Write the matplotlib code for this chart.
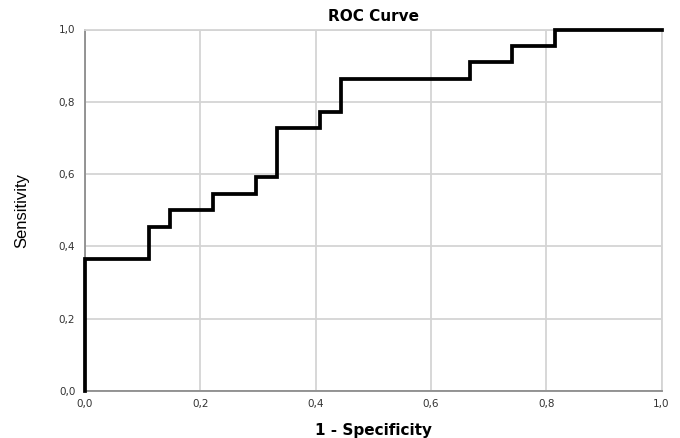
import matplotlib
matplotlib.use("Agg")
import matplotlib.pyplot as plt
from matplotlib.ticker import FuncFormatter

# ROC step points (1 - specificity, sensitivity)
fpr = [0.0, 0.0, 0.111, 0.148, 0.222, 0.296, 0.333, 0.407, 0.444, 0.667, 0.741, 0.815, 1.0]
tpr = [0.0, 0.364, 0.455, 0.500, 0.545, 0.591, 0.727, 0.773, 0.864, 0.909, 0.955, 1.0, 1.0]
ticks = [0.0, 0.2, 0.4, 0.6, 0.8, 1.0]
title = "ROC Curve"
xlabel = "1 - Specificity"
ylabel = "Sensitivity"

fig = plt.figure(figsize=(6.8, 4.38), dpi=100)
ax = fig.add_axes([85/680, 1 - 391/438, (661.5-85)/680, (391-29.5)/438])

ax.plot(fpr, tpr, drawstyle="steps-post", color="black", lw=2.7,
        solid_joinstyle="miter", zorder=3, clip_on=False)

ax.set_xlim(0, 1)
ax.set_ylim(0, 1)
ax.set_xticks(ticks)
ax.set_yticks(ticks)
fmt = FuncFormatter(lambda v, p: f"{v:.1f}".replace(".", ","))
ax.xaxis.set_major_formatter(fmt)
ax.yaxis.set_major_formatter(fmt)
ax.grid(True, color="#d4d4d4", lw=1.3, zorder=0)
ax.set_axisbelow(True)
ax.tick_params(length=0, labelsize=7.5, labelcolor="#333333", pad=6)
ax.tick_params(axis="y", pad=7)

for s in ["top", "right"]:
    ax.spines[s].set_color("#d4d4d4")
    ax.spines[s].set_linewidth(1.3)
for s in ["left", "bottom"]:
    ax.spines[s].set_color("#8c8c8c")
    ax.spines[s].set_linewidth(1.3)

ax.set_title(title, fontsize=11, fontweight="bold", family="DejaVu Sans", pad=6)
ax.set_xlabel(xlabel, fontsize=11, fontweight="bold", family="DejaVu Sans", labelpad=10)
ax.set_ylabel(ylabel, fontsize=12, family=["Liberation Sans", "DejaVu Sans"], labelpad=21)

fig.savefig("out.png", dpi=100)
